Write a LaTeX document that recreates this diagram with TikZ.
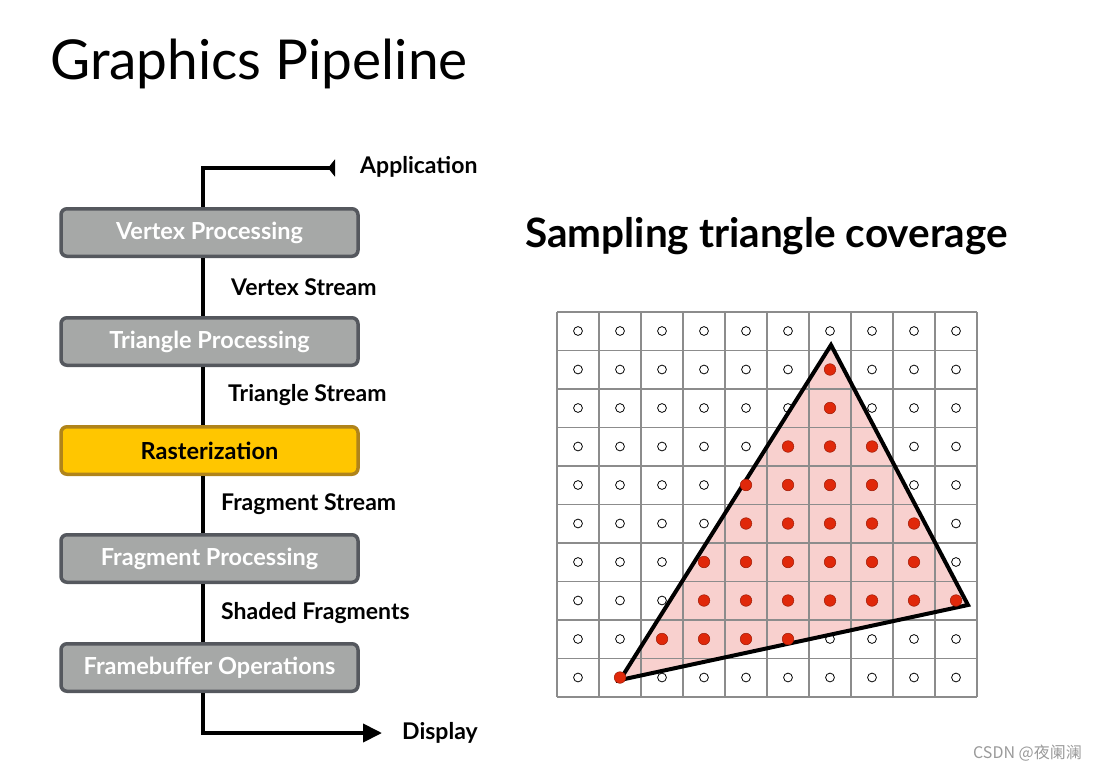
\documentclass[tikz,border=0pt]{standalone}
\usepackage{fontspec}
\setmainfont{Lato}
\newfontfamily\cjkfont{Noto Sans CJK SC}
\usetikzlibrary{arrows.meta}

\definecolor{stagegray}{HTML}{A6A8A7}
\definecolor{stageedge}{HTML}{55585E}
\definecolor{rastfill}{HTML}{FFC600}
\definecolor{rastedge}{HTML}{B0841A}
\definecolor{covered}{HTML}{F8D0CE}
\definecolor{samplered}{HTML}{E0280A}
\definecolor{gridgray}{HTML}{8C8C8C}

\begin{document}
\begin{tikzpicture}[
    x=1pt,
    y=-1pt,
    stage/.style={
        draw=stageedge,
        line width=3.5pt,
        rounded corners=6pt,
        fill=stagegray,
        minimum width=297pt,
        minimum height=47.5pt,
        text=white,
        font=\fontsize{23.5}{26}\selectfont\bfseries
    },
    raster/.style={
        stage,
        draw=rastedge,
        fill=rastfill,
        text=black
    },
    streamlabel/.style={
        anchor=west,
        inner sep=0pt,
        font=\fontsize{23}{26}\selectfont\bfseries
    },
    wire/.style={line width=4pt},
    gridline/.style={draw=gridgray, line width=1.2pt}
]
\useasboundingbox (0,0) rectangle (1095,773);

\node[anchor=base west, inner sep=0pt, font=\fontsize{55}{62}\selectfont] (title) at (50,80) {Graphics Pipeline};

% pipeline stages
\node[stage] (vertex) at (209.5,232.5) {Vertex Processing};
\node[stage] (triangle) at (209.5,341.5) {Triangle Processing};
\node[raster] (raster) at (209.5,450.5) {Rasterization};
\node[stage] (fragment) at (209.5,558.5) {Fragment Processing};
\node[stage] (fbo) at (209.5,667.5) {Framebuffer Operations};

\node[streamlabel] (application) at (360,167) {Application};
\node[streamlabel] (vstream) at (231,287) {Vertex Stream};
\node[streamlabel] (tstream) at (228,395) {Triangle Stream};
\node[streamlabel] (fstream) at (221,504) {Fragment Stream};
\node[streamlabel] (shaded) at (221,613) {Shaded Fragments};
\node[streamlabel] (display) at (402,733) {Display};

\coordinate (apptip) at (335,168);
\coordinate (disptip) at (382,733);

\draw[wire, -{Triangle[reversed, length=7pt, width=17pt]}] ([xshift=-6.5pt]vertex.north) |- (apptip);
\draw[wire] ([xshift=-6.5pt]vertex.south) -- ([xshift=-6.5pt]triangle.north);
\draw[wire] ([xshift=-6.5pt]triangle.south) -- ([xshift=-6.5pt]raster.north);
\draw[wire] ([xshift=-6.5pt]raster.south) -- ([xshift=-6.5pt]fragment.north);
\draw[wire] ([xshift=-6.5pt]fragment.south) -- ([xshift=-6.5pt]fbo.north);
\draw[wire, -{Triangle[length=19pt, width=18pt]}] ([xshift=-6.5pt]fbo.south) |- (disptip);

% coverage
\node[anchor=base west, inner sep=0pt, font=\fontsize{40.5}{48}\selectfont\bfseries] (sampling) at (525,247) {Sampling triangle coverage};

\fill[covered] (831,345) -- (968,605) -- (620,680) -- cycle;
\foreach \c in {0,...,10}
    \draw[gridline] ({557+42*\c},312) -- ({557+42*\c},697);
\foreach \r in {0,...,10}
    \draw[gridline] (557,{312+38.5*\r}) -- (977,{312+38.5*\r});
\foreach \c in {0,...,9}
    \foreach \r in {0,...,9}
        \draw[line width=0.8pt] ({578+42*\c},{331+38.5*\r}) circle[radius=4.4pt];
\draw[line width=4pt] (831,345) -- (968,605) -- (620,680) -- cycle;
\foreach \r/\cols in {1/{6},2/{6},3/{5,6,7},4/{4,5,6,7},5/{4,5,6,7,8},6/{3,4,5,6,7,8},7/{3,4,5,6,7,8,9},8/{2,3,4,5},9/{1}}
    \foreach \c in \cols
        \draw[fill=samplered, draw=samplered!70!black, line width=0.5pt] ({578+42*\c},{331+38.5*\r}) circle[radius=5.8pt];

\node[anchor=east, inner sep=0pt, text=black!40, font=\fontsize{16}{18}\selectfont\cjkfont] (mark) at (1082,753) {CSDN @夜阑澜};

\end{tikzpicture}
\end{document}
